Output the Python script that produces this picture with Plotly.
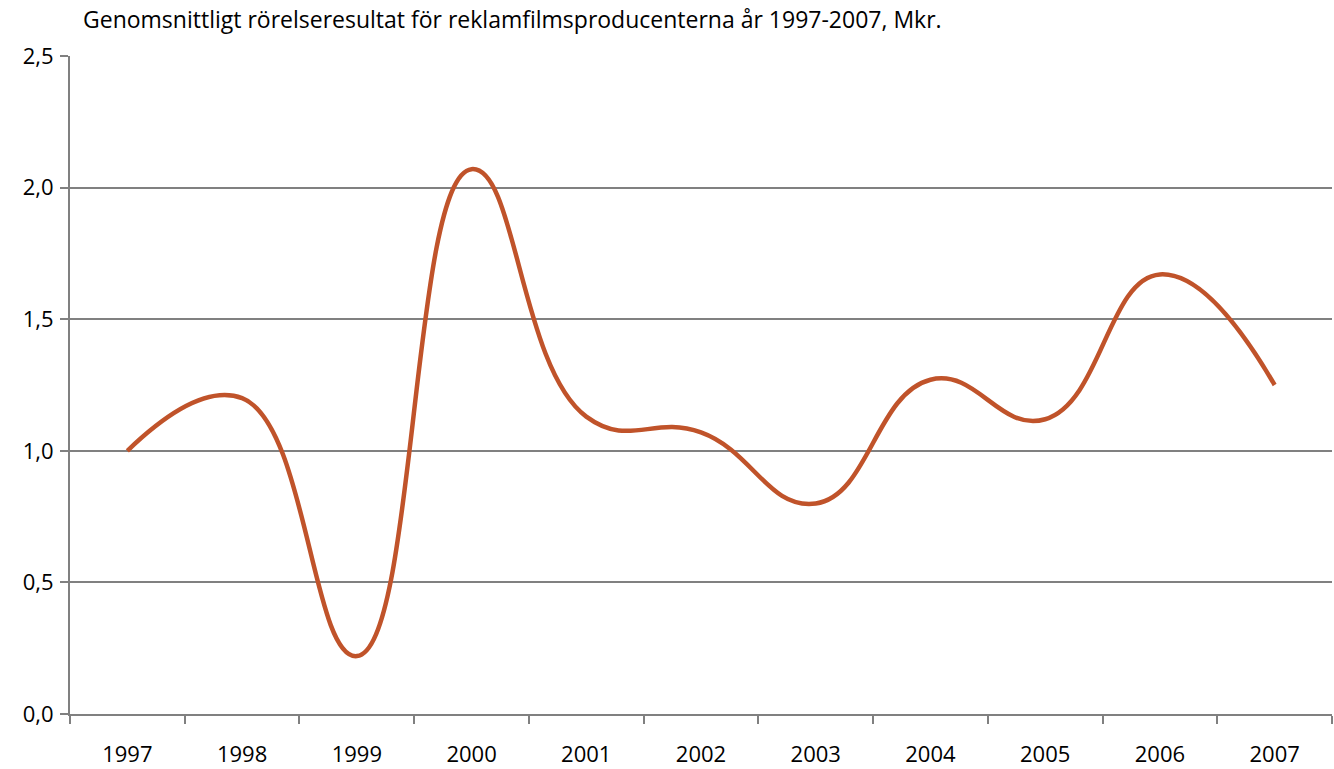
import plotly.graph_objects as go

years = ["1997", "1998", "1999", "2000", "2001", "2002", "2003", "2004", "2005", "2006", "2007"]
values = [1.00, 1.20, 0.22, 2.07, 1.13, 1.07, 0.80, 1.27, 1.12, 1.67, 1.25]
y_ticks = [0, 0.5, 1.0, 1.5, 2.0, 2.5]
title_text = "Genomsnittligt rörelseresultat för reklamfilmsproducenterna år 1997-2007, Mkr."

font_family = "Open Sans, Liberation Sans, sans-serif"

fig = go.Figure()
fig.add_trace(go.Scatter(
    x=years, y=values, mode="lines",
    line=dict(color="#C0532A", width=4.5, shape="spline", smoothing=1.3),
    showlegend=False, hoverinfo="skip",
))

fig.update_layout(
    width=1334, height=769,
    margin=dict(l=70, r=2, t=56, b=55, autoexpand=False),
    paper_bgcolor="white", plot_bgcolor="white",
    separators=",.",
    font=dict(family=font_family, size=22, color="black"),
    annotations=[dict(
        text=title_text, xref="paper", yref="paper", x=0.0085, y=1,
        xanchor="left", yanchor="middle", yshift=37, showarrow=False,
        font=dict(family=font_family, size=23, color="black"),
    )],
)
fig.update_xaxes(
    type="category", tickson="boundaries", ticks="outside", ticklen=8,
    tickcolor="#808080", tickwidth=2, showgrid=False, automargin=False,
    showline=True, linecolor="#808080", linewidth=2,
    ticklabelstandoff=20, tickfont=dict(size=22),
    range=[-0.5, 10.5],
)
fig.update_yaxes(
    range=[0, 2.5], tickvals=y_ticks, tickformat=".1f", automargin=False,
    ticks="outside", ticklen=8, tickcolor="#808080", tickwidth=2,
    showgrid=True, gridcolor="#808080", gridwidth=1.5,
    showline=True, linecolor="#808080", linewidth=2,
    zeroline=False, ticklabelstandoff=2, tickfont=dict(size=22),
)

fig.write_html("out.html", config={"displayModeBar": False},
               post_script="document.body.style.margin='0';")
